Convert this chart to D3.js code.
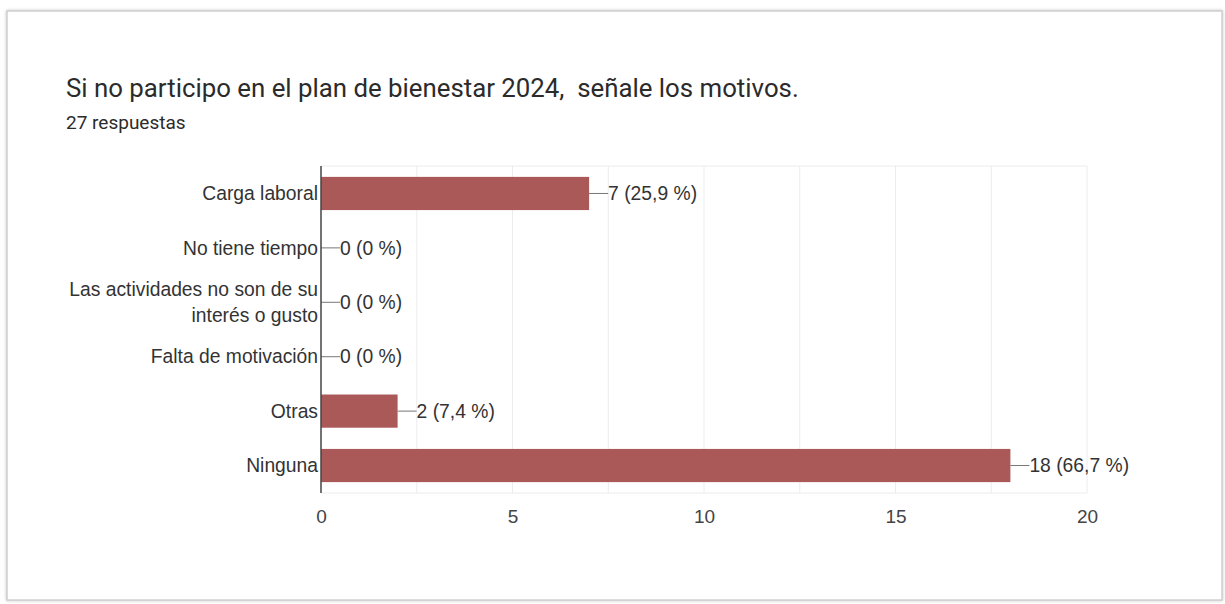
<!DOCTYPE html>
<html>
<head>
<meta charset="utf-8">
<script src="https://cdn.jsdelivr.net/npm/d3@7"></script>
<style>
	body { margin: 0; background: #fff; font-family: Roboto, Arial, sans-serif; }
	.cat-label { font-family: "Liberation Sans", Arial, sans-serif; font-size: 19.3px; fill: #333; text-anchor: end; }
	.val-label { font-family: "Liberation Sans", Arial, sans-serif; font-size: 19.3px; fill: #333; }
	.tick text { font-family: "Liberation Sans", Arial, sans-serif; font-size: 19px; fill: #444; }
</style>
</head>
<body>
<script>
	// data
	var categories = ["Carga laboral", "No tiene tiempo", "Las actividades no son de su interés o gusto",
		"Falta de motivación", "Otras", "Ninguna"];
	var labelLines = [["Carga laboral"], ["No tiene tiempo"], ["Las actividades no son de su", "interés o gusto"],
		["Falta de motivación"], ["Otras"], ["Ninguna"]];
	var counts = [7, 0, 0, 0, 2, 18];
	var percents = ["25,9 %", "0 %", "0 %", "0 %", "7,4 %", "66,7 %"];
	var xTicks = [0, 5, 10, 15, 20];
	var gridVals = [2.5, 5, 7.5, 10, 12.5, 15, 17.5, 20];

	var W = 1225, H = 604;
	var plot = {left: 321, right: 1087, top: 166, bottom: 493};

	var svg = d3.select("body").append("svg").attr("width", W).attr("height", H);

	var defs = svg.append("defs");
	var f = defs.append("filter").attr("id", "shadow").attr("x", "-2%").attr("y", "-2%").attr("width", "104%").attr("height", "104%");
	f.append("feDropShadow").attr("dx", 0).attr("dy", 0).attr("stdDeviation", 1.5).attr("flood-color", "#999").attr("flood-opacity", 0.6);

	// card
	svg.append("rect")
		.attr("x", 7).attr("y", 11).attr("width", 1215).attr("height", 589)
		.attr("fill", "#fff").attr("stroke", "#d0d0d0").attr("stroke-width", 1.5)
		.attr("filter", "url(#shadow)");

	svg.append("text").attr("x", 66).attr("y", 97)
		.style("font-size", "25.8px").style("fill", "#2b2b2b")
		.text("Si no participo en el plan de bienestar 2024,\u00a0 señale los motivos.");
	svg.append("text").attr("x", 66).attr("y", 129)
		.style("font-size", "19px").style("fill", "#2b2b2b")
		.text("27 respuestas");

	var x = d3.scaleLinear().domain([0, 20]).range([plot.left, plot.right]);
	var y = d3.scaleBand().domain(categories).range([plot.top, plot.bottom]).paddingInner(0.39).paddingOuter(0.2);

	// grid
	svg.append("g").selectAll("line").data(gridVals).enter().append("line")
		.attr("x1", function(d) { return x(d); }).attr("x2", function(d) { return x(d); })
		.attr("y1", plot.top).attr("y2", plot.bottom)
		.attr("stroke", "#ececec");
	svg.append("line").attr("x1", plot.left).attr("x2", plot.right)
		.attr("y1", plot.top).attr("y2", plot.top).attr("stroke", "#ececec");
	svg.append("line").attr("x1", plot.left).attr("x2", plot.right)
		.attr("y1", plot.bottom).attr("y2", plot.bottom).attr("stroke", "#ececec");

	// bars
	svg.append("g").selectAll("rect").data(counts).enter().append("rect")
		.attr("x", x(0))
		.attr("y", function(d, i) { return y(categories[i]); })
		.attr("width", function(d) { return x(d) - x(0); })
		.attr("height", y.bandwidth())
		.attr("fill", "#aa5858");

	// leader lines + value labels
	var vl = svg.append("g").selectAll("g").data(counts).enter().append("g")
		.attr("transform", function(d, i) { return "translate(" + x(d) + "," + (y(categories[i]) + y.bandwidth() / 2) + ")"; });
	vl.append("line").attr("x1", 0).attr("x2", 19).attr("y1", 0).attr("y2", 0).attr("stroke", "#777");
	vl.append("text").attr("class", "val-label").attr("x", 19).attr("dy", "0.35em")
		.text(function(d, i) { return d + " (" + percents[i] + ")"; });

	// category labels
	var cl = svg.append("g").selectAll("text").data(labelLines).enter().append("text")
		.attr("class", "cat-label")
		.attr("x", plot.left - 3)
		.attr("y", function(d, i) { return y(categories[i]) + y.bandwidth() / 2; });
	cl.each(function(lines) {
		var t = d3.select(this);
		var n = lines.length;
		lines.forEach(function(l, k) {
			t.append("tspan").attr("x", plot.left - 3)
				.attr("dy", k === 0 ? (0.35 - (n - 1) * 0.68) + "em" : "1.36em")
				.text(l);
		});
	});

	// x axis labels
	var xa = svg.append("g").attr("transform", "translate(0," + plot.bottom + ")")
		.call(d3.axisBottom(x).tickValues(xTicks).tickSize(0).tickPadding(17));
	xa.select(".domain").remove();

	// y axis line
	svg.append("line").attr("x1", plot.left).attr("x2", plot.left)
		.attr("y1", plot.top).attr("y2", plot.bottom)
		.attr("stroke", "#444").attr("stroke-width", 1.5);
</script>
</body>
</html>
